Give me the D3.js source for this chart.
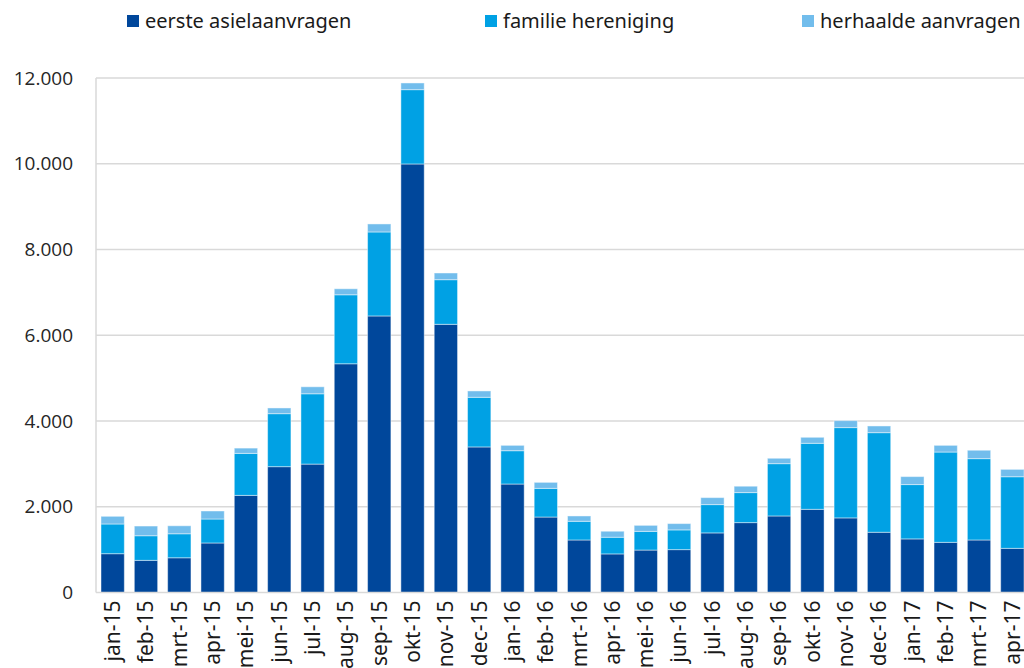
<!DOCTYPE html>
<html>
<head>
<meta charset="utf-8">
<script src="https://cdn.jsdelivr.net/npm/d3@7"></script>
<style>
  body { margin: 0; background: #fff; }
  svg { display: block; }
</style>
</head>
<body>
<svg id="chart" width="1024" height="668"></svg>
<script>
// months on the x axis
var months = ["jan-15","feb-15","mrt-15","apr-15","mei-15","jun-15","jul-15","aug-15","sep-15","okt-15","nov-15","dec-15",
              "jan-16","feb-16","mrt-16","apr-16","mei-16","jun-16","jul-16","aug-16","sep-16","okt-16","nov-16","dec-16",
              "jan-17","feb-17","mrt-17","apr-17"];

// series values
var eerste   = [905, 750, 810, 1155, 2265, 2935, 2995, 5335, 6450, 9995, 6255, 3395,
                2530, 1760, 1225, 900, 990, 1000, 1390, 1630, 1785, 1940, 1740, 1405,
                1250, 1170, 1225, 1030];
var familie  = [693, 574, 560, 559, 980, 1236, 1640, 1609, 1959, 1733, 1041, 1158,
                777, 669, 436, 389, 436, 460, 660, 700, 1220, 1540, 2106, 2323,
                1267, 2106, 1897, 1670];
var herhaald = [179, 226, 186, 187, 123, 133, 163, 140, 187, 156, 156, 148,
                125, 140, 124, 140, 140, 147, 163, 149, 126, 140, 163, 156,
                186, 156, 196, 172];

var seriesNames = ["eerste asielaanvragen", "familie hereniging", "herhaalde aanvragen"];
var seriesColors = ["#00479b", "#00a1e4", "#72bdec"];
var yTicks = [0, 2000, 4000, 6000, 8000, 10000, 12000];

var svg = d3.select("#chart");
var plotLeft = 96, plotRight = 1029, plotTop = 78, plotBottom = 592.5;

var rows = months.map(function(m, i){
  return {month: m, s0: eerste[i], s1: familie[i], s2: herhaald[i]};
});

var x = d3.scaleBand().domain(months).range([plotLeft, plotRight])
          .paddingInner(0.3).paddingOuter(0.15);
var y = d3.scaleLinear().domain([0, 12000]).range([plotBottom, plotTop]);

var nl = d3.formatLocale({decimal: ",", thousands: ".", grouping: [3], currency: ["", ""]});
var fmt = nl.format(",");

// gridlines
svg.append("g").selectAll("line").data(yTicks.slice(1)).enter()
   .append("line")
   .attr("x1", plotLeft)
   .attr("x2", 1024)
   .attr("y1", function(d){ return y(d); })
   .attr("y2", function(d){ return y(d); })
   .attr("stroke", "#d9d9d9")
   .attr("stroke-width", 1.5);

// stacked bars
var stack = d3.stack().keys(["s0", "s1", "s2"]);
var layers = stack(rows);

svg.append("g").selectAll("g").data(layers).enter()
   .append("g")
   .attr("fill", function(d, i){ return seriesColors[i]; })
   .selectAll("rect").data(function(d){ return d; }).enter()
   .append("rect")
   .attr("x", function(d){ return x(d.data.month); })
   .attr("y", function(d){ return y(d[1]); })
   .attr("width", x.bandwidth())
   .attr("height", function(d){ return y(d[0]) - y(d[1]); })
   .attr("stroke", "#ffffff")
   .attr("stroke-opacity", 0.45)
   .attr("stroke-width", 1);

// axis lines
svg.append("line")
   .attr("x1", plotLeft).attr("x2", plotLeft)
   .attr("y1", plotTop).attr("y2", plotBottom)
   .attr("stroke", "#d9d9d9").attr("stroke-width", 1.5);
svg.append("line")
   .attr("x1", plotLeft).attr("x2", 1024)
   .attr("y1", plotBottom).attr("y2", plotBottom)
   .attr("stroke", "#d9d9d9").attr("stroke-width", 1.5);

// y axis labels
var yAxis = d3.axisLeft(y).tickValues(yTicks).tickSize(0).tickPadding(23).tickFormat(fmt);
var gy = svg.append("g").attr("transform", "translate(" + plotLeft + ",0)").call(yAxis);
gy.select(".domain").remove();
gy.selectAll("text")
  .attr("font-family", "'Open Sans', sans-serif")
  .attr("font-size", 19)
  .attr("fill", "#262626");

// x axis labels, rotated
var xAxis = d3.axisBottom(x).tickSize(0).tickPadding(0);
var gx = svg.append("g").attr("transform", "translate(0," + plotBottom + ")").call(xAxis);
gx.select(".domain").remove();
gx.selectAll("text")
  .attr("font-family", "'Noto Sans', sans-serif")
  .attr("font-size", 21)
  .attr("fill", "#1a1a1a")
  .attr("text-anchor", "end")
  .attr("transform", "rotate(-90)")
  .attr("x", -8)
  .attr("y", 0)
  .attr("dy", "0.35em");

// legend
var legendX = [127, 485, 802];
var legend = svg.append("g").selectAll("g").data(seriesNames).enter()
   .append("g")
   .attr("transform", function(d, i){ return "translate(" + legendX[i] + ",0)"; });
legend.append("rect")
   .attr("x", 0).attr("y", 15)
   .attr("width", 12).attr("height", 12)
   .attr("fill", function(d, i){ return seriesColors[i]; });
legend.append("text")
   .attr("x", 18).attr("y", 28)
   .attr("font-family", "'Noto Sans', sans-serif")
   .attr("font-size", 20)
   .attr("fill", "#1a1a1a")
   .text(function(d){ return d; });
</script>
</body>
</html>
